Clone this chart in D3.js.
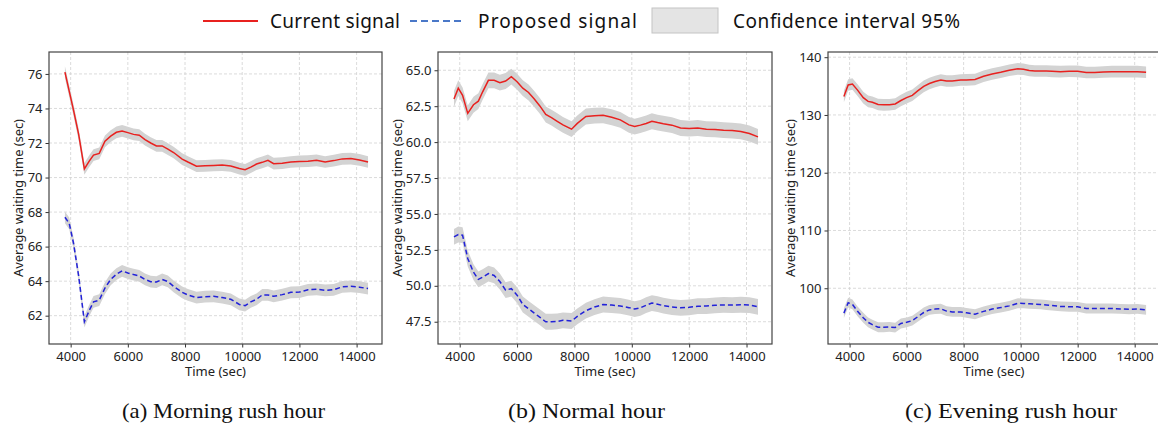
<!DOCTYPE html>
<html lang="en">
<head>
<meta charset="UTF-8">
<title>Average waiting time</title>
<script src="https://d3js.org/d3.v7.min.js"></script>
<style>
  body { margin: 0; background: #fff; }
  svg { display: block; font-family: "Noto Sans", "DejaVu Sans", sans-serif; }
</style>
</head>
<body>
<svg id="chart" width="1158" height="428"></svg>
<script>
// sample times (sec), shared by all panels
const times = [3800, 3950, 4100, 4280, 4480, 4650, 4800, 5000, 5200, 5400, 5600, 5800, 6000, 6200, 6400, 6600, 6800, 7000, 7200, 7400, 7600, 7900, 8100, 8400, 8700, 9000, 9300, 9600, 9900, 10100, 10300, 10500, 10700, 10900, 11100, 11400, 11700, 12000, 12300, 12600, 12900, 13200, 13500, 13800, 14100, 14400];

// (a) morning rush hour
const morningCurrent = [76.1, 75.0, 73.9, 72.5, 70.5, 70.95, 71.3, 71.4, 72.1, 72.4, 72.62, 72.7, 72.6, 72.5, 72.45, 72.2, 72.0, 71.83, 71.83, 71.65, 71.45, 71.07, 70.9, 70.66, 70.68, 70.7, 70.72, 70.67, 70.52, 70.45, 70.6, 70.78, 70.88, 71.0, 70.8, 70.83, 70.9, 70.93, 70.95, 71.0, 70.9, 70.98, 71.08, 71.1, 71.02, 70.9];
const morningProposed = [67.7, 67.35, 66.2, 64.3, 61.65, 62.3, 62.8, 62.9, 63.6, 64.1, 64.4, 64.6, 64.47, 64.38, 64.3, 64.1, 63.97, 63.95, 64.1, 63.98, 63.7, 63.35, 63.2, 63.05, 63.1, 63.12, 63.05, 62.95, 62.65, 62.58, 62.8, 62.95, 63.2, 63.2, 63.12, 63.22, 63.35, 63.37, 63.5, 63.53, 63.47, 63.5, 63.67, 63.7, 63.65, 63.57];

// (b) normal hour
const normalCurrent = [63.0, 63.75, 63.25, 62.0, 62.6, 62.85, 63.5, 64.3, 64.3, 64.14, 64.25, 64.55, 64.2, 63.75, 63.45, 63.0, 62.5, 61.92, 61.7, 61.45, 61.2, 60.9, 61.3, 61.78, 61.84, 61.86, 61.73, 61.55, 61.2, 61.08, 61.18, 61.3, 61.45, 61.36, 61.28, 61.18, 60.98, 60.94, 60.98, 60.9, 60.88, 60.83, 60.8, 60.74, 60.6, 60.36];
const normalProposed = [53.4, 53.57, 53.52, 51.9, 50.95, 50.45, 50.6, 50.85, 50.72, 50.3, 49.7, 49.8, 49.35, 48.7, 48.4, 48.1, 47.8, 47.5, 47.5, 47.52, 47.6, 47.55, 47.87, 48.27, 48.52, 48.7, 48.66, 48.6, 48.48, 48.38, 48.47, 48.65, 48.8, 48.72, 48.62, 48.52, 48.47, 48.5, 48.58, 48.59, 48.64, 48.67, 48.66, 48.68, 48.66, 48.54];

// (c) evening rush hour
const eveningCurrent = [133.2, 135.2, 135.35, 134.3, 133.0, 132.35, 132.2, 131.8, 131.75, 131.78, 131.9, 132.5, 133.0, 133.4, 134.2, 134.95, 135.45, 135.8, 136.05, 135.88, 135.87, 136.05, 136.07, 136.15, 136.7, 137.1, 137.4, 137.75, 137.98, 137.9, 137.7, 137.6, 137.6, 137.6, 137.55, 137.5, 137.57, 137.55, 137.35, 137.35, 137.45, 137.5, 137.5, 137.5, 137.5, 137.4];
const eveningProposed = [95.7, 97.5, 97.2, 96.0, 94.9, 94.1, 93.7, 93.25, 93.25, 93.3, 93.2, 93.9, 94.1, 94.4, 95.1, 95.8, 96.25, 96.4, 96.45, 96.05, 95.9, 95.9, 95.75, 95.5, 96.0, 96.4, 96.65, 96.95, 97.4, 97.38, 97.32, 97.25, 97.2, 97.1, 97.0, 96.85, 96.8, 96.78, 96.5, 96.5, 96.5, 96.5, 96.42, 96.36, 96.42, 96.25];

// 95% confidence half-widths [current, proposed]
const morningCI = [0.34, 0.34];
const normalCI = [0.55, 0.55];
const eveningCI = [1.0, 0.85];

const xTicks = [4000, 6000, 8000, 10000, 12000, 14000];
const morningTicks = [62, 64, 66, 68, 70, 72, 74, 76];
const normalTicks = [47.5, 50.0, 52.5, 55.0, 57.5, 60.0, 62.5, 65.0];
const eveningTicks = [100, 110, 120, 130, 140];

const captions = ["(a) Morning rush hour", "(b) Normal hour", "(c) Evening rush hour"];
const legendLabels = ["Current signal", "Proposed signal", "Confidence interval 95%"];

const RED = "#e8211f";
const BLUE = "#2222d8";

const panels = [
  { left: 49, right: 382, cur: morningCurrent, pro: morningProposed, ci: morningCI,
    yDomain: [60.36, 77.27], yTicks: morningTicks, fmt: d3.format("d"), ylabX: 18,
    caption: captions[0], capX: 122, capW: 203 },
  { left: 438, right: 772, cur: normalCurrent, pro: normalProposed, ci: normalCI,
    yDomain: [45.95, 66.27], yTicks: normalTicks, fmt: d3.format(".1f"), ylabX: 397,
    caption: captions[1], capX: 508, capW: 157 },
  { left: 828, right: 1160, cur: eveningCurrent, pro: eveningProposed, ci: eveningCI,
    yDomain: [90.35, 140.9], yTicks: eveningTicks, fmt: d3.format("d"), ylabX: 790,
    caption: captions[2], capX: 905, capW: 212 }
];

const plotTop = 52, plotBottom = 344;
const svg = d3.select("#chart");
svg.append("rect").attr("width", 1158).attr("height", 428).attr("fill", "#fff");

panels.forEach(p => {
  const x = d3.scaleLinear().domain([3243, 14888]).range([p.left, p.right]);
  const y = d3.scaleLinear().domain(p.yDomain).range([plotBottom, plotTop]);
  const g = svg.append("g");

  // grid
  g.append("g").selectAll("line").data(xTicks).join("line")
    .attr("x1", d => x(d)).attr("x2", d => x(d)).attr("y1", plotTop).attr("y2", plotBottom)
    .attr("stroke", "#d2d2d2").attr("stroke-width", 0.8).attr("stroke-dasharray", "3,2");
  g.append("g").selectAll("line").data(p.yTicks).join("line")
    .attr("x1", p.left).attr("x2", p.right).attr("y1", d => y(d)).attr("y2", d => y(d))
    .attr("stroke", "#d2d2d2").attr("stroke-width", 0.8).attr("stroke-dasharray", "3,2");

  const pts = arr => times.map((t, i) => ({ t, v: arr[i] }));
  const area = hw => d3.area().x(d => x(d.t)).y0(d => y(d.v - hw)).y1(d => y(d.v + hw));
  const line = d3.line().x(d => x(d.t)).y(d => y(d.v));

  g.append("path").datum(pts(p.cur)).attr("d", area(p.ci[0])).attr("fill", "#d3d3d3");
  g.append("path").datum(pts(p.pro)).attr("d", area(p.ci[1])).attr("fill", "#d3d3d3");
  g.append("path").datum(pts(p.cur)).attr("d", line)
    .attr("fill", "none").attr("stroke", RED).attr("stroke-width", 1.5);
  g.append("path").datum(pts(p.pro)).attr("d", line)
    .attr("fill", "none").attr("stroke", BLUE).attr("stroke-width", 1.5)
    .attr("stroke-dasharray", "5,3");

  // axes
  const xAxis = g.append("g").attr("transform", `translate(0,${plotBottom})`)
    .call(d3.axisBottom(x).tickValues(xTicks).tickSize(3.5).tickPadding(4).tickFormat(d3.format("d")));
  const yAxis = g.append("g").attr("transform", `translate(${p.left},0)`)
    .call(d3.axisLeft(y).tickValues(p.yTicks).tickSize(3.5).tickPadding(3).tickFormat(p.fmt));
  [xAxis, yAxis].forEach(a => {
    a.select(".domain").remove();
    a.selectAll("line").attr("stroke", "#333");
    a.selectAll("text").attr("fill", "#222").style("font-size", "13px")
      .style("font-family", '"Noto Sans", sans-serif');
  });

  g.append("rect").attr("x", p.left).attr("y", plotTop)
    .attr("width", p.right - p.left).attr("height", plotBottom - plotTop)
    .attr("fill", "none").attr("stroke", "#444").attr("stroke-width", 1.2);

  g.append("text").attr("x", (p.left + p.right) / 2).attr("y", 376)
    .attr("text-anchor", "middle").attr("font-size", 13).attr("fill", "#222")
    .text("Time (sec)");
  g.append("text").attr("transform", `translate(${p.ylabX},${(plotTop + plotBottom) / 2}) rotate(-90)`)
    .attr("text-anchor", "middle").attr("dy", "0.35em").attr("font-size", 13).attr("fill", "#222")
    .attr("textLength", 158)
    .text("Average waiting time (sec)");

  svg.append("text").attr("x", p.capX).attr("y", 418)
    .attr("font-family", '"Liberation Serif", "Times New Roman", serif')
    .attr("font-size", 21).attr("fill", "#111")
    .attr("textLength", p.capW).attr("lengthAdjust", "spacingAndGlyphs")
    .text(p.caption);
});

// legend
const leg = svg.append("g").attr("font-size", 19).attr("fill", "#111");
leg.append("line").attr("x1", 203).attr("x2", 258).attr("y1", 21).attr("y2", 21)
  .attr("stroke", RED).attr("stroke-width", 2);
leg.append("text").attr("x", 270).attr("y", 28).attr("textLength", 130).text(legendLabels[0]);
leg.append("line").attr("x1", 410).attr("x2", 465).attr("y1", 21).attr("y2", 21)
  .attr("stroke", "#4a78c8").attr("stroke-width", 2).attr("stroke-dasharray", "7,4");
leg.append("text").attr("x", 478).attr("y", 28).attr("textLength", 159).text(legendLabels[1]);
leg.append("rect").attr("x", 652).attr("y", 8).attr("width", 66).attr("height", 25)
  .attr("fill", "#e4e4e4").attr("stroke", "#c4c4c4");
leg.append("text").attr("x", 733).attr("y", 28).attr("textLength", 227).text(legendLabels[2]);
</script>
</body>
</html>
